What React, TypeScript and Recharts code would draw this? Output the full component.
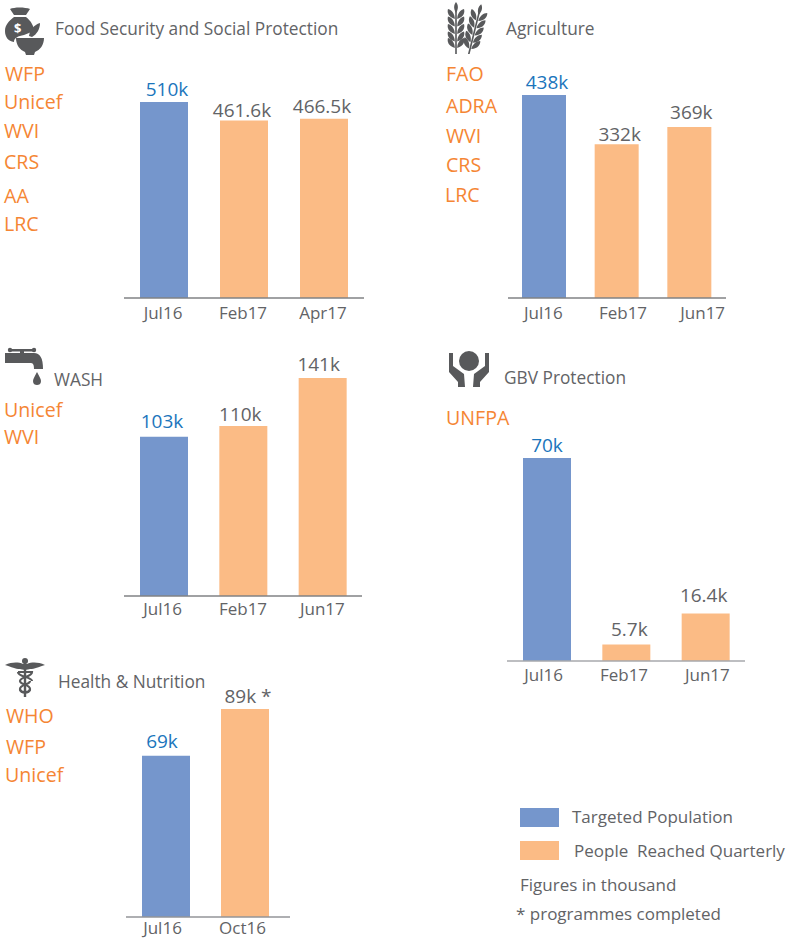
// App.tsx
import React from "react";
import { BarChart, Bar, XAxis, YAxis, Cell, LabelList } from "recharts";

const FONT = "'Open Sans', 'Noto Sans', sans-serif";
const BLUE = "#7596cc";
const PEACH = "#fbbb85";
const GREY = "#626366";
const ICON = "#58595b";
const ORANGE = "#f58634";
const LABEL_BLUE = "#1b75bc";

const foodCats = ["Jul16", "Feb17", "Apr17"];
const foodVals = [510, 461.6, 466.5];
const foodLabels = ["510k", "461.6k", "466.5k"];

const agriCats = ["Jul16", "Feb17", "Jun17"];
const agriVals = [438, 332, 369];
const agriLabels = ["438k", "332k", "369k"];

const washCats = ["Jul16", "Feb17", "Jun17"];
const washVals = [103, 110, 141];
const washLabels = ["103k", "110k", "141k"];

const gbvCats = ["Jul16", "Feb17", "Jun17"];
const gbvVals = [70, 5.7, 16.4];
const gbvLabels = ["70k", "5.7k", "16.4k"];

const healthCats = ["Jul16", "Oct16"];
const healthVals = [69, 89];
const healthLabels = ["69k", "89k *"];

const toRows = (cats: string[], vals: number[], labels: string[]) =>
  cats.map((c, i) => ({ cat: c, value: vals[i], label: labels[i] }));

type MiniProps = {
  cats: string[];
  vals: number[];
  labels: string[];
  left: number;
  width: number;
  barTop: number;
  baseline: number;
  barSize: number;
  tickGap: number;
  axisColor?: string;
  padRight?: number;
  tickShift: number[]; // the labels in the original sit a bit off their bars
  labelShift: number[];
  labelLift: number[];
};

const MiniBars = ({
  cats, vals, labels, left, width, barTop, baseline, barSize, tickGap,
  axisColor = "#808285", padRight = 0, tickShift, labelShift, labelLift,
}: MiniProps) => {
  const marginTop = 32;
  const axisH = 30;
  const plotH = baseline - barTop;
  const max = Math.max(...vals);
  return (
    <div style={{ position: "absolute", left, top: barTop - marginTop }}>
      <BarChart
        width={width}
        height={marginTop + plotH + axisH}
        data={toRows(cats, vals, labels)}
        margin={{ top: marginTop, right: 0, bottom: 0, left: 0 }}
      >
        <XAxis
          dataKey="cat"
          height={axisH}
          tickLine={false}
          axisLine={{ stroke: axisColor, strokeWidth: 1.5 }}
          padding={{ left: 0, right: padRight }}
          interval={0}
          tick={(p: any) => (
            <text
              x={p.payload.coordinate + tickShift[p.index]}
              y={baseline - barTop + marginTop + tickGap + 6}
              textAnchor="middle"
              fontSize={17}
              fontFamily={FONT}
              fill={GREY}
            >
              {p.payload.value}
            </text>
          )}
        />
        <YAxis hide domain={[0, max]} />
        <Bar dataKey="value" barSize={barSize} isAnimationActive={false}>
          {cats.map((c, i) => (
            <Cell key={c} fill={i === 0 ? BLUE : PEACH} />
          ))}
          <LabelList
            dataKey="label"
            content={(p: any) => (
              <text
                x={p.x + p.width / 2 + labelShift[p.index]}
                y={p.y - labelLift[p.index]}
                textAnchor="middle"
                fontSize={19}
                fontFamily={FONT}
                fill={p.index === 0 ? LABEL_BLUE : GREY}
              >
                {p.value}
              </text>
            )}
          />
        </Bar>
      </BarChart>
    </div>
  );
};

const Txt = ({ x, y, size, color, children }: any) => (
  <div
    style={{
      position: "absolute",
      left: x,
      top: y,
      fontFamily: FONT,
      fontSize: size,
      color,
      whiteSpace: "pre",
      lineHeight: "24px",
    }}
  >
    {children}
  </div>
);

// [name, left, centre y]
const partners: [string, number, number][] = [
  ["WFP", 5, 74], ["Unicef", 4, 102], ["WVI", 4, 131], ["CRS", 4, 162], ["AA", 4, 196], ["LRC", 4, 224],
  ["FAO", 446, 74], ["ADRA", 446, 106], ["WVI", 446, 136], ["CRS", 446, 165], ["LRC", 445, 195],
  ["Unicef", 4, 410], ["WVI", 4, 437],
  ["UNFPA", 446, 418],
  ["WHO", 6, 716], ["WFP", 6, 747], ["Unicef", 5, 775],
];

const headings: [string, number, number][] = [
  ["Food Security and Social Protection", 55, 29],
  ["Agriculture", 506, 29],
  ["WASH", 54, 380],
  ["GBV Protection", 504, 378],
  ["Health & Nutrition", 58, 682],
];

const notes: [string, number, number][] = [
  ["Targeted Population", 572, 817],
  ["People  Reached Quarterly", 574, 851],
  ["Figures in thousand", 520, 885],
  ["* programmes completed", 516, 914],
];

const Icon = ({ x, y, w, h, children }: any) => (
  <svg
    width={w}
    height={h}
    viewBox={`0 0 ${w} ${h}`}
    style={{ position: "absolute", left: x, top: y }}
    fill={ICON}
  >
    {children}
  </svg>
);

const Wheat = ({ tx, ty, rot }: any) => (
  <g transform={`translate(${tx} ${ty}) rotate(${rot})`}>
    <rect x={-0.8} y={0} width={1.6} height={48} />
    {[5, 12.5, 20, 27.5, 34].map((yy) => (
      <g key={yy}>
        <path d={`M-1.2 ${yy + 7} C-8 ${yy + 5} -9 ${yy} -8 ${yy - 3} C-4 ${yy - 2} -1.2 ${yy + 2} -1.2 ${yy + 7}Z`} />
        <path d={`M1.2 ${yy + 7} C8 ${yy + 5} 9 ${yy} 8 ${yy - 3} C4 ${yy - 2} 1.2 ${yy + 2} 1.2 ${yy + 7}Z`} />
      </g>
    ))}
    <path d="M0 -5 C2.5 -2 2.5 2 0 6 C-2.5 2 -2.5 -2 0 -5Z" />
  </g>
);

const Icons = () => (
  <>
    {/* money bag + bowl */}
    <Icon x={4} y={6} w={42} h={50}>
      <path d="M6 3 C10 1 21 1 26 3 L22 9 L10 9Z" />
      <path d="M10 11 H22 C27 15 30 20 30 25 L20 29 C14 30 10 32 10 36 C4 35 1 31 1 25 C1 19 5 15 10 11Z" />
      <path d="M12 32 H40 C40 39 36 44 31 46 L30 49 H22 L21 46 C16 44 12 39 12 32Z" />
      <path d="M25 30 C26 23 30 19 36 17 C36 23 33 28 28 31Z" />
      <text x={10} y={27} fontSize={13} fontFamily={FONT} fontWeight={700} fill="#fff">$</text>
    </Icon>
    {/* wheat */}
    <Icon x={442} y={2} w={54} h={52}>
      <Wheat tx={14} ty={5} rot={0} />
      <Wheat tx={38} ty={7} rot={14} />
    </Icon>
    {/* tap */}
    <Icon x={4} y={346} w={42} h={42}>
      <rect x={6} y={3} width={24} height={2.5} />
      <circle cx={6} cy={4} r={2.2} />
      <circle cx={30} cy={4} r={2.2} />
      <rect x={16} y={4} width={4} height={4} />
      <path d="M1 7 H30 C36 7 39 12 39 23 H30 C30 18 29 17 26 17 H1Z" />
      <path d="M33 26 C35 30 37 33 37 35 C37 38 35 39 33 39 C31 39 29 38 29 35 C29 33 31 30 33 26Z" />
    </Icon>
    {/* hands */}
    <Icon x={448} y={350} w={44} h={40}>
      <circle cx={21} cy={11} r={10} />
      <path d="M1 3 H5 V16 L16 24 L17 37 H10 L10 32 L1 22Z" />
      <path d="M41 3 H37 V16 L26 24 L25 37 H32 L32 32 L41 22Z" />
    </Icon>
    {/* caduceus */}
    <Icon x={4} y={656} w={42} h={42}>
      <path d="M1 9 C8 6 14 6 19 8 L23 8 C28 6 34 6 41 9 C34 11 31 13 26 13 C24 14 18 14 16 13 C11 13 8 11 1 9Z" />
      <circle cx={21} cy={5} r={3} />
      <rect x={19.8} y={5} width={2.4} height={36} />
      <path d="M14 16 H28 C28 21 16 21 16 25 C16 29 26 28 26 33 C26 37 16 37 16 33 M28 25 C28 21 14 21 14 16" fill="none" stroke={ICON} strokeWidth={2.2} />
      <path d="M26 25 C26 29 16 28 16 33 C16 38 26 38 26 33" fill="none" stroke={ICON} strokeWidth={2.2} />
    </Icon>
  </>
);

export default function App() {
  return (
    <div style={{ position: "absolute", left: 0, top: 0, width: 787, height: 938, overflow: "hidden", background: "#fff" }}>
      <Icons />
      {headings.map(([t, x, y]) => (
        <Txt key={t} x={x} y={y - 12} size={17.3} color={GREY}>{t}</Txt>
      ))}
      {partners.map(([t, x, y]) => (
        <Txt key={t + x + y} x={x} y={y - 12} size={19.6} color={ORANGE}>{t}</Txt>
      ))}

      <MiniBars cats={foodCats} vals={foodVals} labels={foodLabels} left={124} width={240} barTop={102} baseline={298} barSize={48} tickGap={15}
        tickShift={[-1, -1, -1]} labelShift={[3, -2, -2]} labelLift={[6, 4, 6]} />
      <MiniBars cats={agriCats} vals={agriVals} labels={agriLabels} left={508} width={218} barTop={95} baseline={298} barSize={44} tickGap={15}
        tickShift={[-1, 6, 13]} labelShift={[3, 3, 2]} labelLift={[6, 3, 8]} />
      <MiniBars cats={washCats} vals={washVals} labels={washLabels} left={124} width={238} barTop={378} baseline={596} barSize={48} tickGap={13}
        tickShift={[-1, 0, 0]} labelShift={[-2, -3, -4]} labelLift={[9, 5, 7]} />
      <MiniBars cats={gbvCats} vals={gbvVals} labels={gbvLabels} left={507} width={238} barTop={458} baseline={661} barSize={48} tickGap={14} axisColor="#a7a9ac"
        tickShift={[-3, -2, 2]} labelShift={[0, 3, -2]} labelLift={[6, 8, 11]} />
      <MiniBars cats={healthCats} vals={healthVals} labels={healthLabels} left={126} width={164} padRight={6} barTop={709} baseline={917} barSize={48} tickGap={11} axisColor="#939598"
        tickShift={[-3, -2]} labelShift={[-4, 3]} labelLift={[8, 6]} />

      <div style={{ position: "absolute", left: 520, top: 808, width: 39, height: 19, background: BLUE }} />
      <div style={{ position: "absolute", left: 520, top: 841, width: 39, height: 19, background: PEACH }} />
      {notes.map(([t, x, y]) => (
        <Txt key={t} x={x} y={y - 12} size={17} color={GREY}>{t}</Txt>
      ))}
    </div>
  );
}
